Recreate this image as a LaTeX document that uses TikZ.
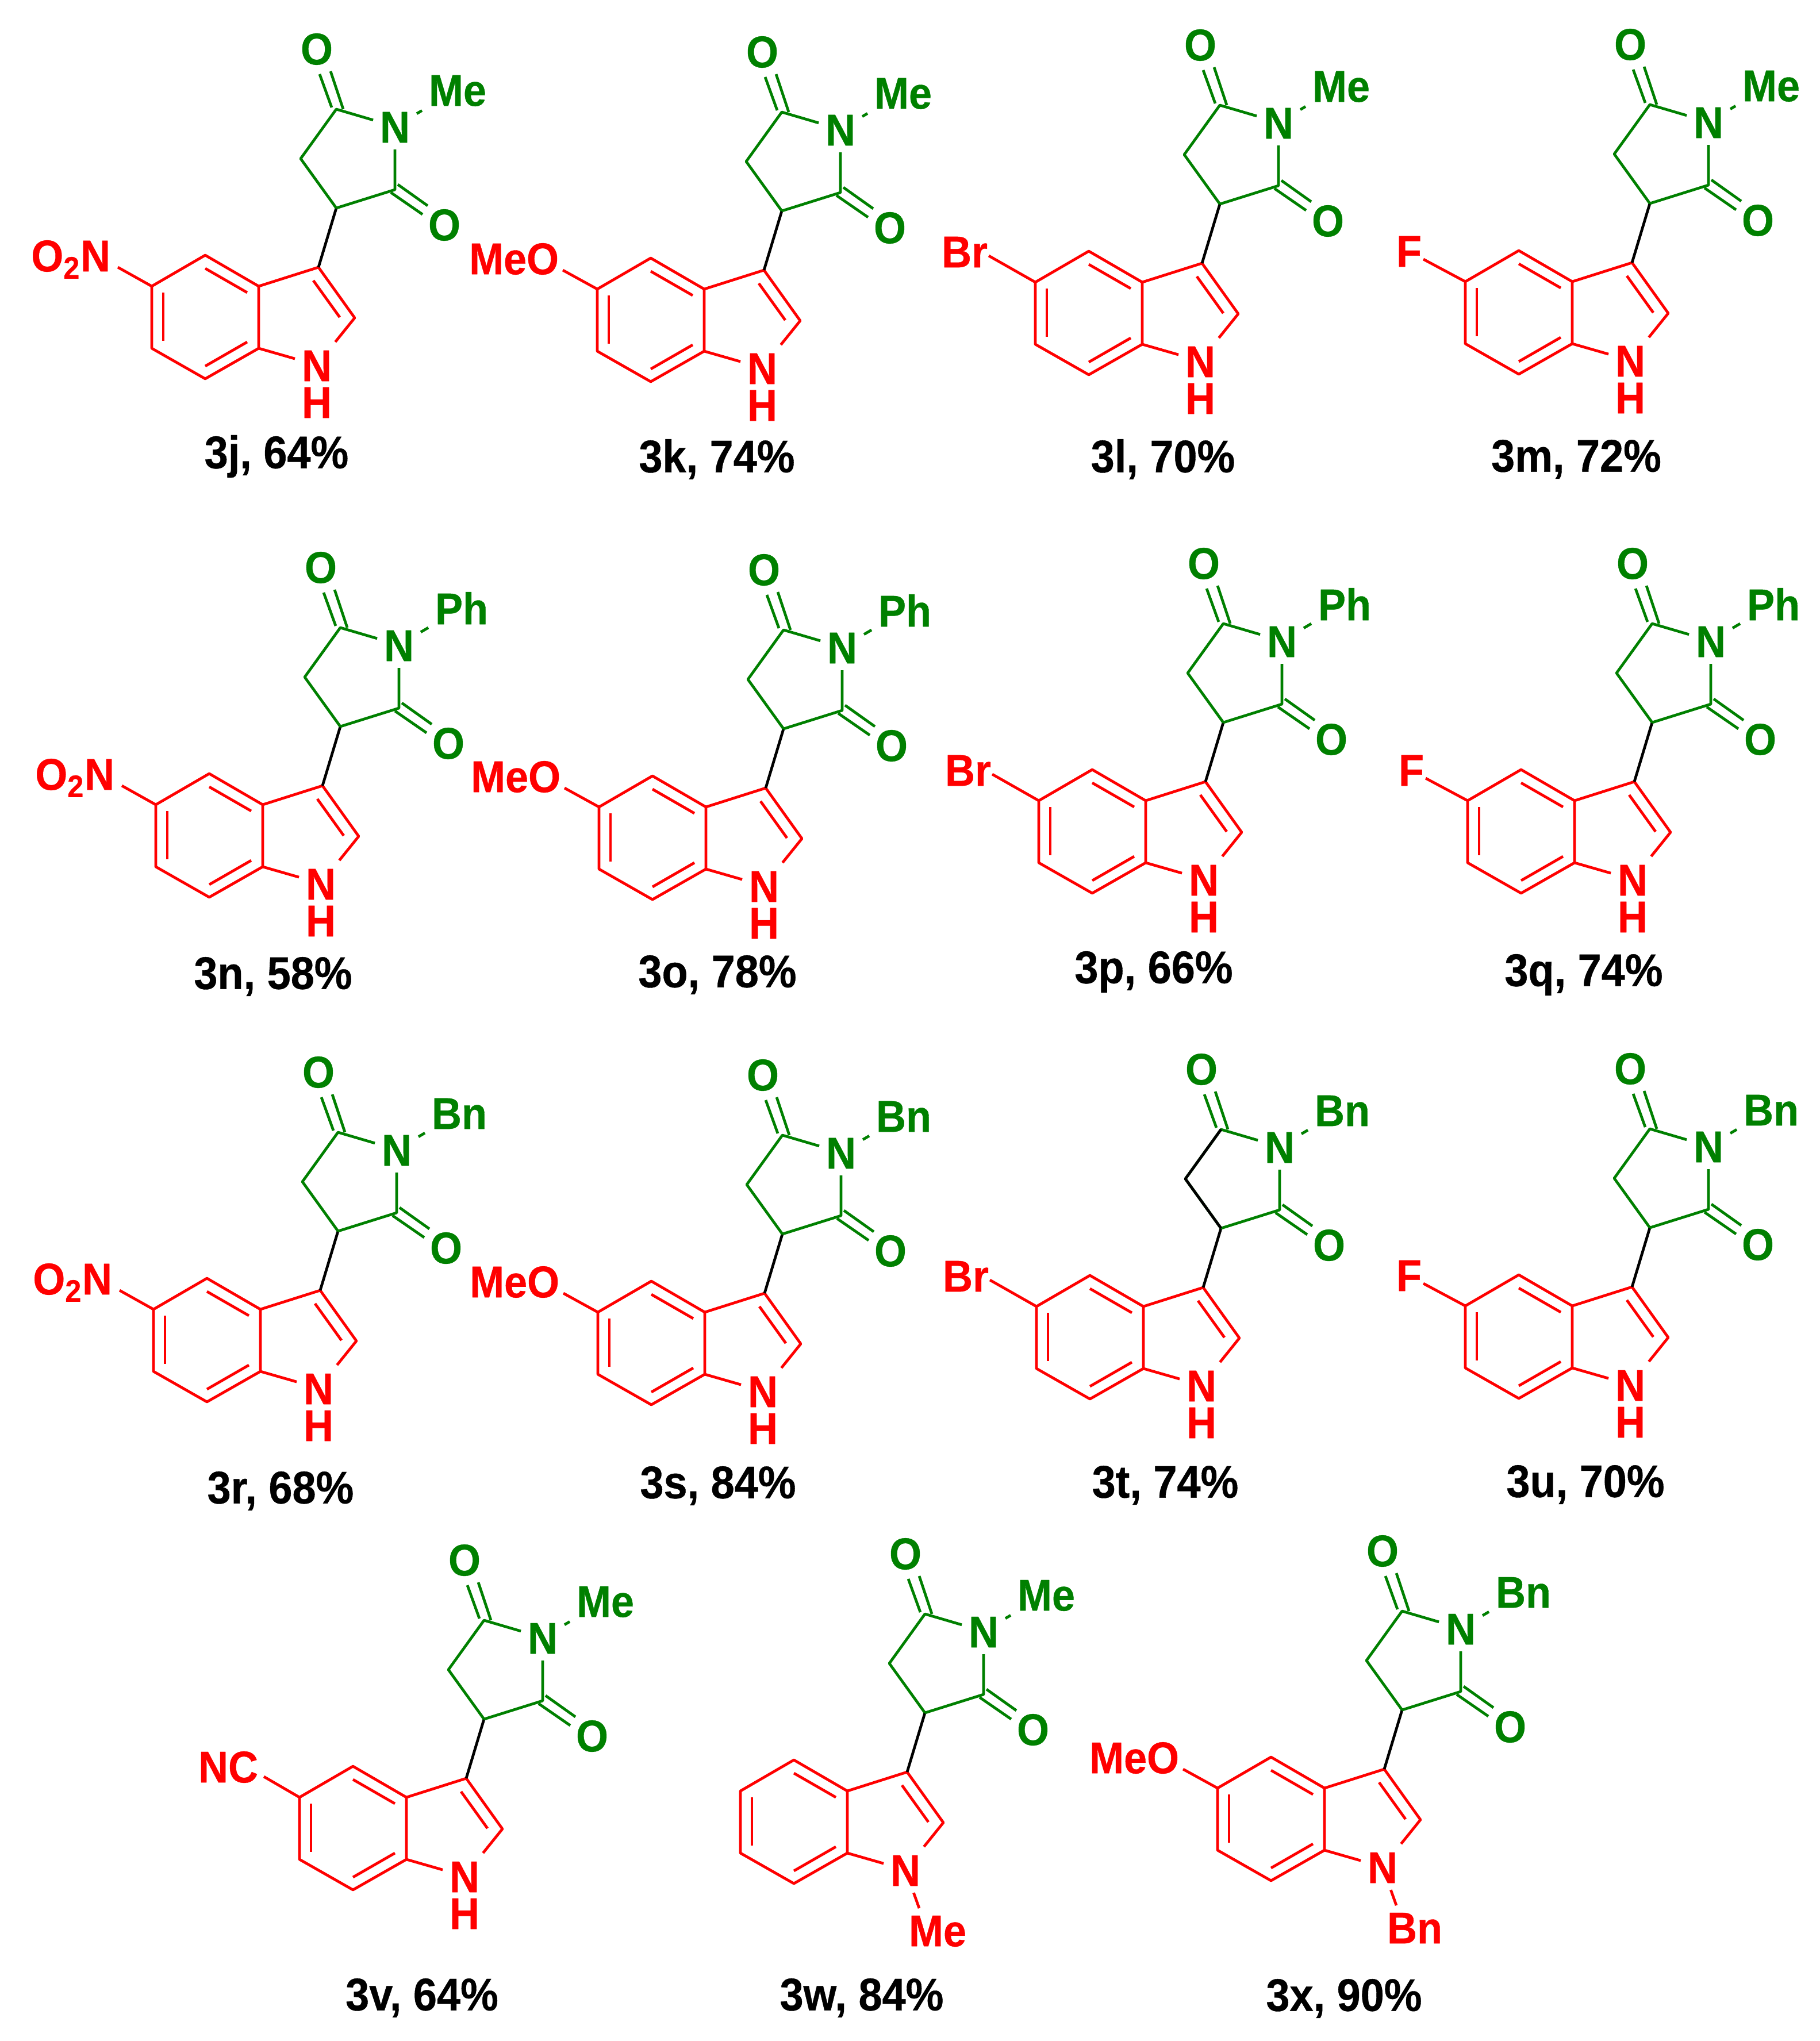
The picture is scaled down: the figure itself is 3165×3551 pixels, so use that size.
\documentclass[tikz,border=0pt]{standalone}
\usepackage{fontspec}
\setmainfont{Liberation Sans}[FakeStretch=0.93,BoldFeatures={FakeBold=0.5}]
\definecolor{imidegreen}{RGB}{0,128,0}
\tikzset{
	indolebond/.style={draw=red,line width=1.35pt,line join=round},
	imidebond/.style={draw=imidegreen,line width=1.35pt,line join=round},
	linkbond/.style={draw=black,line width=1.35pt,line join=round},
	atomtext/.style={font=\bfseries\fontsize{22}{26}\selectfont,inner sep=3.2pt,text height=16pt,text depth=0pt},
	indoleatom/.style={atomtext,text=red},
	imideatom/.style={atomtext,text=imidegreen},
	yieldtext/.style={font=\bfseries\fontsize{22.6}{26}\selectfont,text=black,inner sep=0pt}
}
\newcommand{\subst}[4]{
	\node[indoleatom,anchor=east] (sub) at (#2,444) {#1};
	\coordinate (subend) at (#3,#4);
	\draw[indolebond] (c5) -- (subend);
}
\newcommand{\nitro}{\subst{O\textsubscript{2}N}{204}{205}{465}}
\newcommand{\methoxy}{\subst{MeO}{209}{204}{465}}
\newcommand{\bromo}{\subst{Br}{193}{183}{452}}
\newcommand{\fluoro}{\subst{F}{200}{191}{459}}
\newcommand{\cyano}{\subst{NC}{204}{202}{462}}
\newcommand{\hydrogen}{\node[indoleatom] (nsub) at (551,699) {H};}
\newcommand{\nalkyl}[1]{
	\node[indoleatom] (nsub) at (607,740) {#1};
	\coordinate (nsubend) at (575,702);
	\draw[indolebond] (n1) -- (nsubend);
}
\newcommand{\indolyl}[6]{
	\begin{scope}[shift={(#2,#3)},name prefix=#1-]
	\coordinate (c4) at (357,444);
	\coordinate (c5) at (264,498);
	\coordinate (c6) at (264,606);
	\coordinate (c7) at (357,659);
	\coordinate (c3a) at (450,498);
	\coordinate (c7a) at (450,606);
	\coordinate (c3) at (554,465);
	\coordinate (c2) at (617,553);
	\coordinate (ch) at (585,362);
	\coordinate (ch2) at (523,276);
	\coordinate (cotop) at (585,190);
	\coordinate (colow) at (687,330);
	\node[indoleatom] (n1) at (551,635) {N};
	\node[imideatom] (nim) at (687,220) {N};
	\node[imideatom] (otop) at (551,84) {O};
	\node[imideatom] (olow) at (773,390) {O};
	\node[imideatom] (nr) at (796,156) {#4};
	\draw[indolebond] (c5) -- (c4) -- (c3a) -- (c7a) -- (c7) -- (c6) -- cycle;
	\draw[indolebond] (c3a) -- (c3) -- (c2) -- (n1) -- (c7a);
	\draw[indolebond] (284,509) -- (284,593);
	\draw[indolebond] (357,467) -- (430,509);
	\draw[indolebond] (357,637) -- (430,595);
	\draw[indolebond] (545,488) -- (591,552);
	\draw[linkbond] (c3) -- (ch);
	\draw[imidebond] (ch) -- (ch2) -- (cotop) -- (nim) -- (colow) -- (ch);
	\draw[imidebond] (nim) -- (nr);
	\draw[imidebond] (556,129) -- (577,187);
	\draw[imidebond] (575,124) -- (597,190);
	\draw[imidebond] (680,335) -- (735,373);
	\draw[imidebond] (692,321) -- (744,358);
	#5
	#6
	\end{scope}
}
\begin{document}
\begin{tikzpicture}[x=0.01cm,y=-0.01cm]
	\useasboundingbox (0,0) rectangle (3165,3551);
	\indolyl{j}{0}{0}{Me}{\nitro}{\hydrogen}
	\indolyl{k}{775}{5}{Me}{\methoxy}{\hydrogen}
	\indolyl{l}{1537}{-7}{Me}{\bromo}{\hydrogen}
	\indolyl{m}{2285}{-8}{Me}{\fluoro}{\hydrogen}
	\indolyl{n}{7}{902}{Ph}{\nitro}{\hydrogen}
	\indolyl{o}{778}{906}{Ph}{\methoxy}{\hydrogen}
	\indolyl{p}{1543}{895}{Ph}{\bromo}{\hydrogen}
	\indolyl{q}{2289}{895}{Ph}{\fluoro}{\hydrogen}
	\indolyl{r}{3}{1780}{Bn}{\nitro}{\hydrogen}
	\indolyl{s}{776}{1785}{Bn}{\methoxy}{\hydrogen}
	\indolyl{t}{1539}{1775}{Bn}{\bromo}{\hydrogen}
	\indolyl{u}{2285}{1774}{Bn}{\fluoro}{\hydrogen}
	\indolyl{v}{257}{2629}{Me}{\cyano}{\hydrogen}
	\indolyl{w}{1024}{2618}{Me}{}{\nalkyl{Me}}
	\indolyl{x}{1854}{2613}{Bn}{\methoxy}{\nalkyl{Bn}}
	\draw[linkbond] (t-ch) -- (t-ch2) -- (t-cotop);
	\node[yieldtext] (j-yield) at (481,794) {3j, 64\%};
	\node[yieldtext] (k-yield) at (1247,799) {3k, 74\%};
	\node[yieldtext] (l-yield) at (2023,799) {3l, 70\%};
	\node[yieldtext] (m-yield) at (2742,799) {3m, 72\%};
	\node[yieldtext] (n-yield) at (475,1699) {3n, 58\%};
	\node[yieldtext] (o-yield) at (1248,1696) {3o, 78\%};
	\node[yieldtext] (p-yield) at (2007,1691) {3p, 66\%};
	\node[yieldtext] (q-yield) at (2755,1696) {3q, 74\%};
	\node[yieldtext] (r-yield) at (488,2594) {3r, 68\%};
	\node[yieldtext] (s-yield) at (1249,2585) {3s, 84\%};
	\node[yieldtext] (t-yield) at (2027,2584) {3t, 74\%};
	\node[yieldtext] (u-yield) at (2758,2583) {3u, 70\%};
	\node[yieldtext] (v-yield) at (734,3476) {3v, 64\%};
	\node[yieldtext] (w-yield) at (1499,3476) {3w, 84\%};
	\node[yieldtext] (x-yield) at (2338,3477) {3x, 90\%};
\end{tikzpicture}
\end{document}
